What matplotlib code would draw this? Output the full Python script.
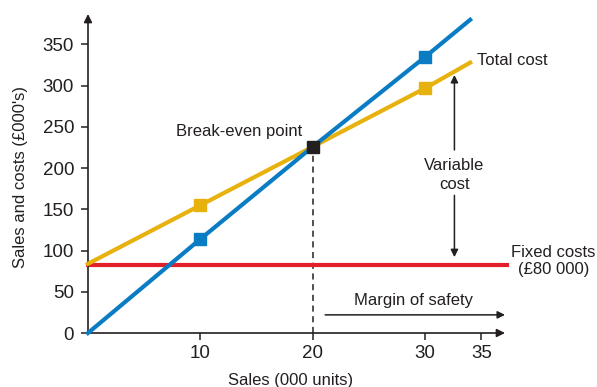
import matplotlib
matplotlib.use("Agg")
import matplotlib.pyplot as plt

# Data
sales_x = [0, 10, 20, 30, 34]
sales_y = [0, 114, 226, 335, 380]
cost_x = [0, 10, 20, 30, 34]
cost_y = [84, 155, 226, 297, 328]
fixed_x = [0, 37.3]
fixed_y = [83, 83]
marker_x = [10, 30]
sales_markers = [114, 335]
cost_markers = [155, 297]
breakeven = (20, 226)
xticks = [10, 20, 30, 35]
yticks = [0, 50, 100, 150, 200, 250, 300, 350]

plt.rcParams['font.family'] = ['Liberation Sans', 'DejaVu Sans']

BLUE = '#0a7cc4'
GOLD = '#e7b10e'
RED = '#e3202a'
DARK = '#231f20'

fig = plt.figure(figsize=(5.97, 3.87), dpi=100)
ax = fig.add_axes([88/597, 54/387, 417/597, 319/387])
ax.set_xlim(0, 37.1)
ax.set_ylim(0, 387)

for s in ax.spines.values():
    s.set_visible(False)

# axes with arrows
ax.annotate('', xy=(1, 0), xytext=(0, 0), xycoords='axes fraction',
            arrowprops=dict(arrowstyle='-|>', color=DARK, lw=1.2,
                            mutation_scale=12, shrinkA=0, shrinkB=0))
ax.annotate('', xy=(0, 1), xytext=(0, 0), xycoords='axes fraction',
            arrowprops=dict(arrowstyle='-|>', color=DARK, lw=1.2,
                            mutation_scale=12, shrinkA=0, shrinkB=0))

ax.plot(fixed_x, fixed_y, color=RED, lw=3, clip_on=False, zorder=2)
ax.plot(cost_x, cost_y, color=GOLD, lw=3, clip_on=False, zorder=3)
ax.plot(sales_x, sales_y, color=BLUE, lw=3, clip_on=False, zorder=4)
ax.plot(marker_x, sales_markers, 's', color=BLUE, ms=8, zorder=5)
ax.plot(marker_x, cost_markers, 's', color=GOLD, ms=8, zorder=5)
ax.plot([breakeven[0]], [breakeven[1]], 's', color=DARK, ms=8, zorder=6)

# dashed drop line
ax.plot([breakeven[0], breakeven[0]], [0, breakeven[1]], color=DARK,
        lw=1.1, ls=(0, (4, 3)), zorder=1)

ax.set_xticks(xticks)
ax.set_yticks(yticks)
ax.tick_params(direction='out', length=5, width=1.1, color=DARK,
               labelsize=13.5, labelcolor=DARK)
ax.tick_params(axis='x', pad=4)
ax.tick_params(axis='y', pad=5)

ax.set_xlabel('Sales (000 units)', fontsize=12, color=DARK)
ax.xaxis.set_label_coords(0.485, -0.125)
ax.set_ylabel("Sales and costs (£000's)", fontsize=12, color=DARK)
ax.yaxis.set_label_coords(-0.143, 0.49)

fs = 12
ax.text(19.05, 244, 'Break-even point', ha='right', va='center', fontsize=fs, color=DARK)
ax.text(34.6, 331, 'Total cost', ha='left', va='center', fontsize=fs, color=DARK)
ax.text(32.6, 192, 'Variable\ncost', ha='center', va='center', fontsize=fs,
        color=DARK, linespacing=1.3)
ax.text(41.4, 87, 'Fixed costs\n(£80 000)', ha='center', va='center', fontsize=fs,
        color=DARK, linespacing=1.2, clip_on=False)
ax.text(29.0, 40, 'Margin of safety', ha='center', va='center', fontsize=fs, color=DARK)

# variable cost arrows
ax.annotate('', xy=(32.6, 313), xytext=(32.6, 222),
            arrowprops=dict(arrowstyle='-|>', color=DARK, lw=1.1,
                            mutation_scale=11, shrinkA=0, shrinkB=0))
ax.annotate('', xy=(32.6, 92), xytext=(32.6, 167),
            arrowprops=dict(arrowstyle='-|>', color=DARK, lw=1.1,
                            mutation_scale=11, shrinkA=0, shrinkB=0))
# margin of safety arrow
ax.annotate('', xy=(37.1, 22), xytext=(21.1, 22),
            arrowprops=dict(arrowstyle='-|>', color=DARK, lw=1.1,
                            mutation_scale=11, shrinkA=0, shrinkB=0),
            annotation_clip=False)

fig.savefig('out.png', dpi=100)
